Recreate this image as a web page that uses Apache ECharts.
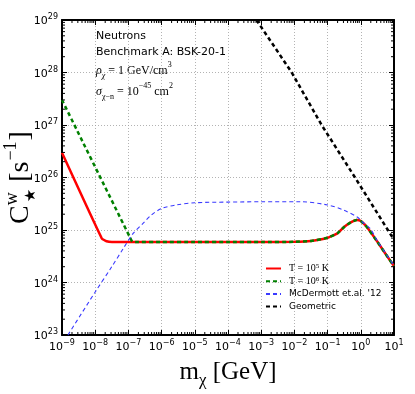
<!DOCTYPE html>
<html>
<head>
<meta charset="utf-8">
<script src="https://cdn.jsdelivr.net/npm/echarts@6/dist/echarts.min.js"></script>
<style>html,body{margin:0;padding:0;background:#fff}#c{width:415px;height:394px}</style>
</head>
<body>
<div id="c"></div>
<script>
// ---- data ----
var massT5 = [1e-9, 1.58e-8, 2.2e-8, 3.2e-8, 1e-7, 1e-6, 1e-5, 1e-4, 1e-3, 1e-2, 3.2e-2, 0.1, 0.2, 0.32, 0.5, 0.76, 1.0, 1.5, 3.2, 5.6, 10];
var capT5  = [2.95e26, 6.9e24, 6.1e24, 5.9e24, 5.9e24, 5.9e24, 5.9e24, 5.9e24, 5.9e24, 5.95e24, 6.2e24, 7.1e24, 8.7e24, 1.15e25, 1.4e25, 1.55e25, 1.48e25, 1.15e25, 5.9e24, 3.5e24, 2.05e24];
var massT6 = [1e-9, 1.12e-7, 1.3e-7, 1.6e-7, 1e-6, 1e-5, 1e-4, 1e-3, 1e-2, 3.2e-2, 0.1, 0.2, 0.32, 0.5, 0.76, 1.0, 1.5, 3.2, 5.6, 10];
var capT6  = [3.0e27, 7.2e24, 6.0e24, 5.9e24, 5.9e24, 5.9e24, 5.9e24, 5.9e24, 5.95e24, 6.2e24, 7.1e24, 8.7e24, 1.15e25, 1.4e25, 1.55e25, 1.48e25, 1.15e25, 5.9e24, 3.5e24, 2.05e24];
var massMcD = [1.51e-9, 1e-8, 3.16e-8, 7.1e-8, 1.41e-7, 2.8e-7, 5e-7, 1e-6, 2.8e-6, 1e-5, 1e-4, 1e-3, 1.5e-2, 0.1, 0.3, 0.8, 1.07, 1.9, 3.2, 5.6, 10];
var capMcD  = [1e23, 6.6e23, 2.0e24, 4.5e24, 8.7e24, 1.35e25, 1.95e25, 2.57e25, 3.0e25, 3.3e25, 3.4e25, 3.45e25, 3.45e25, 3.0e25, 2.4e25, 1.75e25, 1.45e25, 1.07e25, 6.1e24, 3.6e24, 2.1e24];
var massGeo = [7.2e-4, 8.3e-3, 6.6e-2, 0.67, 10];
var capGeo  = [1e29, 1e28, 1e27, 1e26, 6.5e24];
var seriesNames = ['T5', 'T6', 'McDermott et.al. \'12', 'Geometric'];
var xExtent = [1e-9, 10];
var yExtent = [1e23, 1e29];

function pairs(xs, ys) { return xs.map(function (x, i) { return [x, ys[i]]; }); }
function minorTicks(lo, hi) {
  var out = [];
  for (var e = Math.round(Math.log10(lo)); e < Math.round(Math.log10(hi)); e++) {
    for (var k = 2; k <= 9; k++) out.push(k * Math.pow(10, e));
  }
  return out;
}
var SANS = 'DejaVu Sans';
var SERIF = 'Liberation Serif';
function powLabel(v) {
  var e = Math.round(Math.log10(v));
  return '{a|10}{b|' + (e < 0 ? '\u2212' + (-e) : e) + '}';
}
var tickRich = {
  a: { fontFamily: SANS, fontSize: 11, color: '#000', lineHeight: 14, verticalAlign: 'bottom' },
  b: { fontFamily: SANS, fontSize: 8, color: '#000', lineHeight: 14, verticalAlign: 'top', padding: [0, 0, 0, 0] }
};

var chart = echarts.init(document.getElementById('c'), null, { renderer: 'canvas' });
var grid = { left: 62, right: 21, top: 20, bottom: 59, containLabel: false, outerBoundsMode: 'none' };

function xAx(pos, show) {
  return {
    type: 'log', logBase: 10, min: xExtent[0], max: xExtent[1], interval: 1, position: pos,
    axisLine: { show: true, lineStyle: { color: '#000', width: 2 } },
    axisTick: { show: true, inside: true, length: 5, lineStyle: { color: '#000', width: 1 } },
    axisLabel: { show: show, formatter: powLabel, rich: tickRich, margin: 4 },
    splitLine: { show: show, lineStyle: { color: '#a0a0a0', type: [1, 2], width: 0.8 } },
    minorTick: { show: false },
    name: show ? '{m|m}{s|\u03c7}{m| [GeV]}' : '',
    nameLocation: 'middle', nameGap: 20,
    nameTextStyle: { rich: {
      m: { fontFamily: SERIF, fontSize: 25, color: '#000', lineHeight: 30, verticalAlign: 'bottom' },
      s: { fontFamily: SERIF, fontSize: 17, color: '#000', lineHeight: 30, verticalAlign: 'bottom', padding: [0, 0, -4, 0] }
    } }
  };
}
function yAx(pos, show) {
  return {
    type: 'log', logBase: 10, min: yExtent[0], max: yExtent[1], interval: 1, position: pos,
    axisLine: { show: true, lineStyle: { color: '#000', width: 2 } },
    axisTick: { show: true, inside: true, length: 5, lineStyle: { color: '#000', width: 1 } },
    axisLabel: { show: show, formatter: powLabel, rich: tickRich, margin: 4 },
    splitLine: { show: show, lineStyle: { color: '#a0a0a0', type: [1, 2], width: 0.8 } },
    minorTick: { show: false },
    name: show ? '{m|C}{w|w}{st|\u2605}{m| [s}{sp|\u22121}{m|]}' : '',
    nameLocation: 'middle', nameGap: 27, nameRotate: 90, nameMoveOverlap: false,
    nameTextStyle: { padding: [0, 0, 0, 0], rich: {
      m: { fontFamily: SERIF, fontSize: 28, color: '#000', lineHeight: 34, verticalAlign: 'bottom' },
      w: { fontFamily: SERIF, fontSize: 18, color: '#000', lineHeight: 34, verticalAlign: 'top', padding: [2, 0, 0, 0] },
      st: { fontFamily: 'DejaVu Sans', fontSize: 15, color: '#000', lineHeight: 34, verticalAlign: 'bottom', padding: [0, 0, -4, -10] },
      sp: { fontFamily: SERIF, fontSize: 18, color: '#000', lineHeight: 34, verticalAlign: 'top', padding: [1, 1, 0, 1] }
    } }
  };
}

function tickRenderer(isX) {
  return function (params, api) {
    var v = api.value(isX ? 0 : 1);
    var L = 3;
    if (isX) {
      var b = api.coord([v, yExtent[0]]);
      var t = api.coord([v, yExtent[1]]);
      return { type: 'group', children: [
        { type: 'line', shape: { x1: b[0], y1: b[1], x2: b[0], y2: b[1] - L }, style: { stroke: '#000', lineWidth: 1 } },
        { type: 'line', shape: { x1: t[0], y1: t[1], x2: t[0], y2: t[1] + L }, style: { stroke: '#000', lineWidth: 1 } }
      ] };
    } else {
      var l = api.coord([xExtent[0], v]);
      var r = api.coord([xExtent[1], v]);
      return { type: 'group', children: [
        { type: 'line', shape: { x1: l[0], y1: l[1], x2: l[0] + L, y2: l[1] }, style: { stroke: '#000', lineWidth: 1 } },
        { type: 'line', shape: { x1: r[0], y1: r[1], x2: r[0] - L, y2: r[1] }, style: { stroke: '#000', lineWidth: 1 } }
      ] };
    }
  };
}

var legendRich = {
  n: { fontFamily: SERIF, fontSize: 10, color: '#000' },
  s: { fontFamily: SERIF, fontSize: 7, color: '#000', verticalAlign: 'top', lineHeight: 11 },
  t: { fontFamily: SANS, fontSize: 9, color: '#000' }
};
function legendFmt(name) {
  if (name === 'T5') return '{n|T = 10}{s|5}{n| K}';
  if (name === 'T6') return '{n|T = 10}{s|6}{n| K}';
  return '{t|' + name + '}';
}

var option = {
  animation: false,
  backgroundColor: '#fff',
  grid: grid,
  xAxis: [xAx('bottom', true), xAx('top', false)],
  yAxis: [yAx('left', true), yAx('right', false)],
  legend: {
    data: seriesNames, orient: 'vertical', left: 265, top: 263,
    itemWidth: 15, itemHeight: 8, itemGap: 1.7, padding: 0,
    itemStyle: { opacity: 0 },
    formatter: legendFmt,
    textStyle: { rich: legendRich, lineHeight: 11, padding: [0, 0, 0, 3] }
  },
  graphic: [
    { type: 'text', left: 96, top: 31, style: { text: 'Neutrons', font: '11px "DejaVu Sans"', fill: '#000' } },
    { type: 'text', left: 96, top: 47, style: { text: 'Benchmark A: BSK-20-1', font: '11px "DejaVu Sans"', fill: '#000' } },
    { type: 'text', left: 96, top: 61, style: {
      text: '{i|\u03c1}{sb|\u03c7}{n| = 1 GeV/cm}{sp|3}',
      rich: {
        i: { fontFamily: SERIF, fontSize: 12, fontStyle: 'italic', lineHeight: 16, verticalAlign: 'bottom' },
        sb: { fontFamily: SERIF, fontSize: 8, fontStyle: 'italic', lineHeight: 16, verticalAlign: 'bottom', padding: [0, 0, -3, 0] },
        n: { fontFamily: SERIF, fontSize: 12, lineHeight: 16, verticalAlign: 'bottom' },
        sp: { fontFamily: SERIF, fontSize: 8, lineHeight: 16, verticalAlign: 'top' }
      } } },
    { type: 'text', left: 96, top: 82, style: {
      text: '{i|\u03c3}{sb|\u03c7\u2212n}{n| = 10}{sp|\u221245}{n| cm}{sp|2}',
      rich: {
        i: { fontFamily: SERIF, fontSize: 12, fontStyle: 'italic', lineHeight: 16, verticalAlign: 'bottom' },
        sb: { fontFamily: SERIF, fontSize: 8, lineHeight: 16, verticalAlign: 'bottom', padding: [0, 0, -3, 0] },
        n: { fontFamily: SERIF, fontSize: 12, lineHeight: 16, verticalAlign: 'bottom' },
        sp: { fontFamily: SERIF, fontSize: 8, lineHeight: 16, verticalAlign: 'top' }
      } } }
  ],
  series: [
    { name: 'T5', type: 'line', data: pairs(massT5, capT5), showSymbol: false, symbol: 'none', smooth: 0.12, z: 2,
      lineStyle: { color: '#ff0000', width: 2.5, type: 'solid' }, itemStyle: { color: '#ff0000' } },
    { name: 'T6', type: 'line', data: pairs(massT6, capT6), showSymbol: false, symbol: 'none', smooth: 0.12, z: 3,
      lineStyle: { color: '#008000', width: 2.5, type: [4, 3] }, itemStyle: { color: '#008000' } },
    { name: seriesNames[2], type: 'line', data: pairs(massMcD, capMcD), showSymbol: false, symbol: 'none', smooth: 0.3, z: 4,
      lineStyle: { color: '#3a3aff', width: 1.1, type: [4, 3] }, itemStyle: { color: '#3a3aff' } },
    { name: 'Geometric', type: 'line', data: pairs(massGeo, capGeo), showSymbol: false, symbol: 'none', z: 5,
      lineStyle: { color: '#000', width: 2.5, type: [4, 3] }, itemStyle: { color: '#000' } },
    { type: 'custom', silent: true, clip: false, z: 6, renderItem: tickRenderer(true),
      data: minorTicks(xExtent[0], xExtent[1]).map(function (v) { return [v, 1e26]; }) },
    { type: 'custom', silent: true, clip: false, z: 6, renderItem: tickRenderer(false),
      data: minorTicks(yExtent[0], yExtent[1]).map(function (v) { return [1e-4, v]; }) }
  ]
};
chart.setOption(option);
</script>
</body>
</html>
